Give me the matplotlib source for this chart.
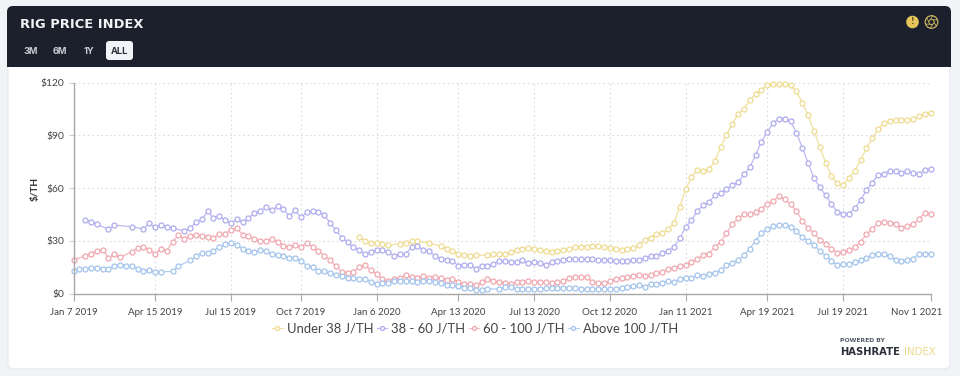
import matplotlib
matplotlib.use('Agg')
import matplotlib.pyplot as plt
import numpy as np
import pandas as pd
from matplotlib.patches import Circle, FancyBboxPatch, Rectangle
from matplotlib.transforms import ScaledTranslation

weeks = pd.date_range('2019-01-07', periods=148, freq='7D')

TICK_DATES = ['2019-01-07', '2019-04-15', '2019-07-15', '2019-10-07', '2020-01-06', '2020-04-13',
              '2020-07-13', '2020-10-12', '2021-01-11', '2021-04-19', '2021-07-19', '2021-11-01']
TICK_LABELS = ['Jan 7 2019', 'Apr 15 2019', 'Jul 15 2019', 'Oct 7 2019', 'Jan 6 2020', 'Apr 13 2020',
               'Jul 13 2020', 'Oct 12 2020', 'Jan 11 2021', 'Apr 19 2021', 'Jul 19 2021', 'Nov 1 2021']
Y_TICKS = [0, 30, 60, 90, 120]
Y_LABELS = ['$0', '$30', '$60', '$90', '$120']

under_38 = [None] * 49 + [
    32.3, 29.8, 29, 28.9, 28.3, 27.5, None, 28.5, 29, 29.8, 29.8, None, 28.9, None, 27, 25.5, 24.2,
    22.8, 21.9, 21.5, 21.9, None, 22, 22.6, 22.8, 22.6, 23.6, 24.9, 25.7, 25.8, 25.7, 24.9, 24.2, 24,
    24.2, 24.7, 25.5, 26.4, 26.8, 26.8, 27.2, 27, 26.4, 26, 25.5, 24.7, 25.5, 26.2, 27.9,
    30.8, 31.9, 33.8, 34.7, 36.6, 40.2, 49.4, 59.3, 66.1, 70.6, 69.5, 70.8, 75.2, 83.5, 90.2, 96.6,
    102.3, 105, 110, 113.6, 115.9, 118.6, 119.1, 119.1, 119.1, 118.6, 115, 108.5, 101.5, 92.6, 83.5,
    74.6, 66.9, 62.7, 61.6, 65.9, 69.9, 75.9, 82.8, 88.3, 93.6, 97.2, 98.1, 98.9, 98.9, 98.9, 99.3,
    101, 102.1, 103]

from_38_to_60 = [
    None, None, 41.7, 41, 39.6, None, 36.6, 39, None, None, 38.1, None, 36.8, 40, 37.7, 39, 38.1, 37.2,
    None, 35.7, 37.4, 40.6, 42.3, 46.8, 43.2, 44.3, 41.7, 40, 42.5, 40.8, 43, 45.7, 47, 49.2, 47.4,
    49.6, 48.1, 44.2, 47.4, 43.4, 46.2, 47, 46.4,
    45, 40.2, 36.2, 31.9, 29.2, 26.4, 25, 22.5, 24, 24.9, 24.7, 23.8, 21.5, 22.5, 22.8, 26.4, 27.4,
    24.7, 24.2, 21.7, 20, 19.2, 18.5, 16, 16.2, 16.4, 14.3, 16, 16, 16.8, 18.5, 18.5, 18.3, 17.9, 18.9,
    17.2, 17.9, 17.5, 16.4, 18.3, 18.5, 19.4, 20, 19.6, 19.8, 19.6, 19.6, 19.4, 19.2, 18.9, 18.5, 18.5,
    18.5, 18.9, 19.2,
    20.2, 21.3, 21.7, 23.2, 24.5, 26.6, 31.5, 37.9, 41.9, 47, 50.2, 52, 56, 57.2, 59.7, 61.7, 63.3,
    67.8, 71.8, 78.8, 86.4, 92, 97, 99.6, 99.2, 98.3, 91.5,
    83.1, 74.4, 65.9, 60.4, 56, 51, 46.6, 45.5, 45.6, 48.5, 53.2, 58.9, 63, 67.6, 68.2, 69.9, 69.9,
    68.6, 69.7, 68.4, 68.2, 70.3, 71]

from_60_to_100 = [
    18.9, None, 21.7, 22.6, 24.5, 25, 20.4, 22.4, 20.6, None, 24, 25.8, 26.6, 25, 22.8, 25.5, 24.5,
    29.6, 33.2, 31.3, 33, 33.6, 33, 32.3, 31.9, 34, 34, 36.4, 37.4, 33.6, 32.6, 31.3, 30, 30, 31.3,
    29.6, 27.4, 26.6, 27.9, 26.6, 28.7, 26.6, 24.3,
    21.7, 19.4, 15.7, 12.6, 11.5, 12.6, 15, 16.2, 13.4, 11.1, 8.1, 7.4, 8.1, 9.2, 10.4, 9.6, 9.2, 10,
    8.9, 9.6, 8.7, 7.7, 8.1, 6.6, 5.3, 5.5, 4.9, 6.4, 8.3, 7.4, 6.6, 6, 5.5, 6.4, 6.6, 7, 6.6, 6.6,
    6.6, 6.2, 6.4, 7, 8.9, 9.6, 9.6, 9.6, 6.8, 6.2, 6.2, 7, 8.1, 9, 9.6, 10.2, 10.8,
    10.2, 10.8, 11.7, 12.6, 14.2, 14.9, 15.5, 16.2, 18.3, 19.8, 22, 22.8, 26.6, 29.6, 34.3, 39.6, 42.8,
    45.3, 45.3, 46.4, 48.3, 51, 52.8, 55.3, 53.6, 50.8, 47, 41.5, 37.4, 34.5, 30.8, 28.1, 25.5, 23.4,
    23.6, 24.7, 26.6, 29.4, 33.8, 36.8, 40.2, 41, 40.4, 39.8, 37.4, 38.5, 39.4, 42.3, 45.9, 45.5]

above_100 = [
    12.8, 14.2, 14.2, 14.9, 14.9, 14.2, 14, 16, 16.4, 16, 16, 13.8, 13, 13.4, 12.3, 12.3, None, 12.8,
    15.7, None, 18.9, 21.5, 23.2, 23, 24.3, 26.6, 28, 28.7, 27.5, 25.7, 24.3, 24, 24.7, 24.2, 22.8,
    21.9, 21.5, 20.2, 20.4, 18.7, 16, 15, 12.8,
    12.8, 11.9, 10.8, 10, 8.9, 8.9, 8.1, 8.1, 6.8, 5.8, 6.2, 6, 7.4, 7.2, 7.2, 7.2, 6.6, 7.4, 7.4, 6.8,
    6.2, 5.1, 4.7, 4.3, 3.4, 3.2, 2.3, 2, 2.6, None, 2.8, 3.6, 3.6, 2.8, 2.6, 2.4, 2.4, 2.6, 3, 3.4, 3.4,
    3.2, 3.2, 3, 2.6, 2.6, 2.6, 2.6, 2.6, 2.6, 2.6, 3.2, 3.6, 4.3, 4.9,
    4, 5.3, 5.3, 6.2, 7.2, 6.6, 8.3, 9, 9.2, 10.4, 10, 11.1, 12, 13.4, 16.2, 17.5, 19, 22, 25.5, 30,
    34.5, 37, 38.3, 39, 38.9, 38, 35.5, 32, 30.2, 27.7, 24.3, 21.7, 18.7, 16.4, 16.8, 16.8, 18, 19.2,
    20.4, 21.9, 22.8, 22.3, 21.3, 19, 18.5, 19, 20, 22.6, 22.5, 22.5]

SERIES = [
    ('Under 38 J/TH', under_38, '#f0e0a0', '#eedb90'),
    ('38 - 60 J/TH', from_38_to_60, '#bdbaf2', '#aeabee'),
    ('60 - 100 J/TH', from_60_to_100, '#f4b8bd', '#efa6ae'),
    ('Above 100 J/TH', above_100, '#b3cff0', '#a2c3eb'),
]

W, H = 960, 376
fig = plt.figure(figsize=(W / 100, H / 100), dpi=100, facecolor='#f1f3f7')

# page furniture, in pixel coordinates
bg = fig.add_axes([0, 0, 1, 1])
bg.set_xlim(0, W)
bg.set_ylim(H, 0)
bg.axis('off')

bg.add_patch(FancyBboxPatch((8, 7), 942, 362, boxstyle='round,pad=0,rounding_size=6',
                            fc='white', ec='#e9ebf0', lw=1))
bg.add_patch(FancyBboxPatch((7, 6), 944, 40, boxstyle='round,pad=0,rounding_size=6',
                            fc='#1b202c', ec='none'))
bg.add_patch(Rectangle((7, 20), 944, 47, fc='#1b202c', ec='none'))

bg.text(20, 24, 'RIG PRICE INDEX', color='#f2f3f5', fontsize=9.4, fontweight='bold',
        family='DejaVu Sans', va='center')
for px, label in [(31, '3M'), (60, '6M'), (89, '1Y')]:
    bg.text(px, 51, label, color='#c9ccd2', fontsize=6.6, fontweight='bold', family='Inter',
            ha='center', va='center')
bg.add_patch(FancyBboxPatch((106, 41), 27, 19, boxstyle='round,pad=0,rounding_size=3',
                            fc='#f2f3f6', ec='none'))
bg.text(119.5, 51, 'ALL', color='#2a2f3b', fontsize=6.6, fontweight='bold', family='Inter',
        ha='center', va='center')

# status icons
bg.add_patch(Circle((912.5, 22), 6.3, fc='#e6c65a', ec='none'))
bg.text(912.5, 22, '!', color='#5c4f1e', fontsize=5.5, fontweight='bold', ha='center', va='center')
bg.add_patch(Circle((931.5, 22), 6.3, fc='none', ec='#c9b262', lw=0.9))
bg.add_patch(Circle((931.5, 22), 2.6, fc='none', ec='#c9b262', lw=0.7))
for ang in np.arange(0, 360, 60):
    a = np.deg2rad(ang)
    bg.plot([931.5 + 2.6 * np.cos(a), 931.5 + 6.1 * np.cos(a + 0.7)],
            [22 + 2.6 * np.sin(a), 22 + 6.1 * np.sin(a + 0.7)], color='#c9b262', lw=0.6)

# logo
bg.text(840, 341, 'POWERED BY', color='#555b66', fontsize=4.4, fontweight='bold', family='DejaVu Sans',
        va='center')
bg.text(840, 352, 'HASHRATE', color='#2a2e38', fontsize=7.2, fontweight='bold', family='DejaVu Sans',
        va='center')
bg.text(904, 352, 'INDEX', color='#ecd98f', fontsize=7.4, family='DejaVu Sans', va='center')

# chart
ax = fig.add_axes([73.5 / W, 1 - 293.7 / H, 857 / W, 211 / H])
ax.patch.set_alpha(0)

for label, values, line_color, edge_color in SERIES:
    vals = np.array([np.nan if v is None else v for v in values], dtype=float)
    mask = ~np.isnan(vals)
    ax.plot(weeks[mask], vals[mask], color=line_color, lw=0.9, marker='o', ms=3.6,
            mfc='#ffffff', mec=edge_color, mew=0.9, label=label, clip_on=False)

ax.set_xlim(weeks[0], weeks[-1])
ax.set_ylim(0, 120)
ax.set_xticks(pd.to_datetime(TICK_DATES))
ax.set_xticklabels(TICK_LABELS, fontsize=7, family='Lato', color='#444444')
ax.set_yticks(Y_TICKS)
ax.set_yticklabels(Y_LABELS, fontsize=7.4, family='Lato', color='#444444')
ax.tick_params(axis='x', length=5, width=0.8, color='#aaaaaa', pad=5)
ax.tick_params(axis='y', length=3.5, width=0.8, color='#cccccc', pad=3)
ax.grid(True, color='#dcdcdc', lw=0.8, ls=(0, (1.5, 2.5)))
ax.set_axisbelow(True)

# last label sits inside the card, not centred on its tick
last = ax.get_xticklabels()[-1]
last.set_ha('right')
last.set_transform(last.get_transform() + ScaledTranslation(11.5 / 100, 0, fig.dpi_scale_trans))

for side in ['top', 'right']:
    ax.spines[side].set_visible(False)
for side in ['left', 'bottom']:
    ax.spines[side].set_color('#a8a8a8')
    ax.spines[side].set_linewidth(1)

bg.text(35.5, 189, '$/TH', rotation=90, fontsize=7.2, family='Lato', fontweight='bold',
        color='#333333', ha='center', va='center')

leg = ax.legend(loc='center', bbox_to_anchor=((475 - 73.5) / 857, (293.7 - 328.5) / 211), ncol=4,
                frameon=False, handlelength=0.8, handletextpad=0.3, columnspacing=0.27,
                markerscale=0.8, prop={'family': 'Lato', 'size': 9.4}, labelcolor='#444444')

fig.savefig('out.png', dpi=100, facecolor=fig.get_facecolor())
